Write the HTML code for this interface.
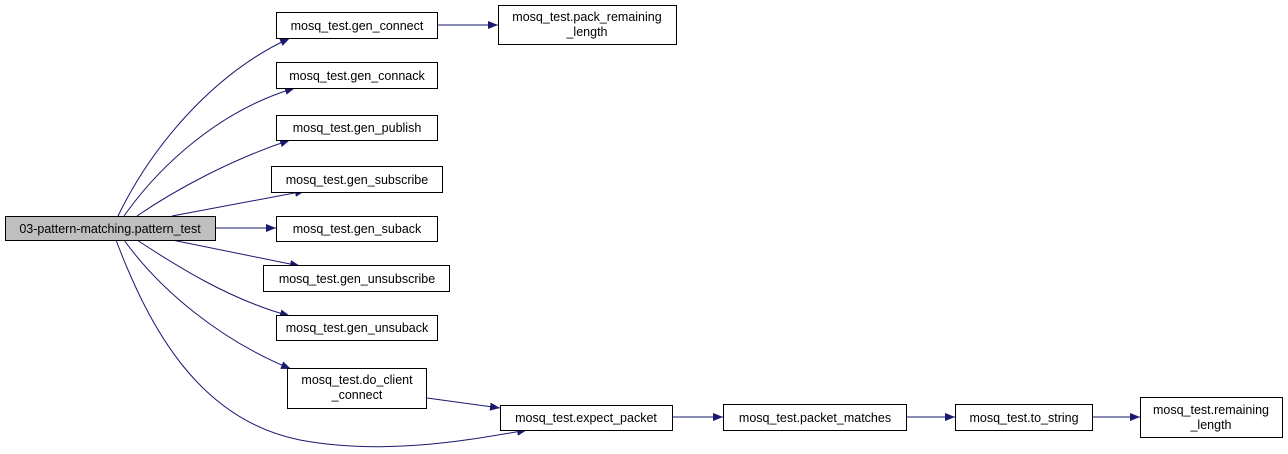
<!DOCTYPE html>
<html><head><meta charset="utf-8"><style>
html,body{margin:0;padding:0;background:#fff;width:1288px;height:454px;overflow:hidden}
text{font-family:"Liberation Sans",sans-serif;font-size:12.5px;fill:#000}
</style></head><body>
<svg width="1288" height="454" viewBox="0 0 1288 454" xmlns="http://www.w3.org/2000/svg">
<defs><marker id="a" viewBox="0 0 10 10" refX="10" refY="5" markerWidth="10" markerHeight="10" markerUnits="userSpaceOnUse" orient="auto"><path d="M0,1 L10,5 L0,9 z" fill="#191970"/></marker></defs>
<g fill="none" stroke="#191970" stroke-width="1" marker-end="url(#a)">
<path d="M118,216 C150,150 210,75 290,38"/>
<path d="M124,216 C160,165 220,110 295,88"/>
<path d="M137,216 C175,190 230,160 290,140"/>
<path d="M172,216 L305,191"/>
<path d="M215,228 L276,228"/>
<path d="M172,240 L300,266"/>
<path d="M137,240 C175,265 230,300 290,316"/>
<path d="M124,240 C160,290 220,340 291,369"/>
<path d="M116,240 C150,330 200,420 300,440 C380,455 460,442 527,430"/>
<path d="M427,398 L500,408"/>
<path d="M437,25 L498,25"/>
<path d="M672,417 L723,417"/>
<path d="M906,417 L955,417"/>
<path d="M1092,417 L1140,417"/>
</g>
<g stroke="#000" stroke-width="1">
<rect x="5.5" y="216.5" width="210" height="24" fill="#bfbfbf"/>
<rect x="276.5" y="12.5" width="161" height="26" fill="#fff"/>
<rect x="498.5" y="5.5" width="178" height="39" fill="#fff"/>
<rect x="276.5" y="62.5" width="161" height="26" fill="#fff"/>
<rect x="276.5" y="115.5" width="161" height="25" fill="#fff"/>
<rect x="271.5" y="166.5" width="171" height="26" fill="#fff"/>
<rect x="276.5" y="216.5" width="161" height="25" fill="#fff"/>
<rect x="263.5" y="265.5" width="186" height="26" fill="#fff"/>
<rect x="276.5" y="315.5" width="161" height="25" fill="#fff"/>
<rect x="287.5" y="368.5" width="139" height="40" fill="#fff"/>
<rect x="500.5" y="405.5" width="172" height="25" fill="#fff"/>
<rect x="723.5" y="404.5" width="183" height="26" fill="#fff"/>
<rect x="955.5" y="404.5" width="137" height="26" fill="#fff"/>
<rect x="1140.5" y="397.5" width="142" height="40" fill="#fff"/>
</g>
<g text-anchor="middle">
<text x="110" y="233">03-pattern-matching.pattern_test</text>
<text x="357" y="30">mosq_test.gen_connect</text>
<text x="587" y="21">mosq_test.pack_remaining</text>
<text x="587" y="36">_length</text>
<text x="357" y="80">mosq_test.gen_connack</text>
<text x="357" y="132">mosq_test.gen_publish</text>
<text x="357" y="184">mosq_test.gen_subscribe</text>
<text x="357" y="233">mosq_test.gen_suback</text>
<text x="357" y="283">mosq_test.gen_unsubscribe</text>
<text x="357" y="332">mosq_test.gen_unsuback</text>
<text x="357" y="384">mosq_test.do_client</text>
<text x="357" y="399">_connect</text>
<text x="586" y="422">mosq_test.expect_packet</text>
<text x="815" y="422">mosq_test.packet_matches</text>
<text x="1024" y="422">mosq_test.to_string</text>
<text x="1211" y="414">mosq_test.remaining</text>
<text x="1211" y="429">_length</text>
</g>
</svg>
</body></html>
